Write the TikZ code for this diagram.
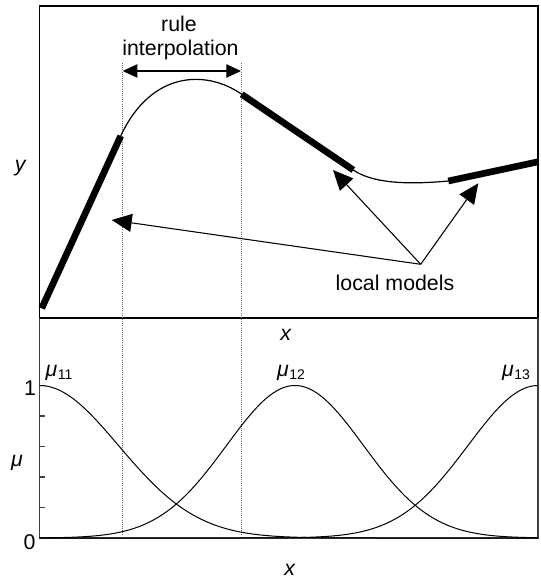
\documentclass[tikz,border=0pt]{standalone}
\usepackage{fontspec}
\setmainfont{Liberation Sans}
\usetikzlibrary{arrows.meta}

\newcommand{\memb}[1]{\textit{μ}\kern0.3pt\raisebox{-0.3ex}{\fontsize{10.5}{12}\selectfont #1}}

\tikzset{
  model/.style={line width=5pt},
  guide/.style={densely dotted, black!60, line width=0.6pt},
  lmarrow/.style={-{Triangle[length=15pt,width=13.5pt]}, line width=0.8pt},
  mf/.style={line width=0.75pt, domain=39.5:538, samples=150},
}

\begin{document}
\begin{tikzpicture}[x=0.75pt, y=-0.75pt, font=\fontsize{16}{19}\selectfont]
  \useasboundingbox (0,0) rectangle (541,586);

  % frames
  \draw[line width=1.3pt] (39.5,6) rectangle (538,318);
  \draw[black!75, line width=1.1pt] (39.5,318) -- (39.5,538) -- (538,538) -- (538,318);
  \foreach \k in {1,...,5}
    \draw[black!75, line width=0.8pt] (39.5,{538-30.5*\k}) -- ++(5,0);

  % guides for the interpolation zone
  \coordinate (g1) at (122.7,63);
  \coordinate (g2) at (241,63);
  \draw[guide] (g1) -- (122.7,538);
  \draw[guide] (g2) -- (241,538);

  % local models
  \coordinate (a0) at (41.7,308.3);
  \coordinate (a1) at (120.7,136);
  \coordinate (b0) at (241.7,94.3);
  \coordinate (b1) at (353.3,170);
  \coordinate (c0) at (448.3,181);
  \coordinate (c1) at (538.5,161.7);
  \draw[model] (a0) -- (a1);
  \draw[model] (b0) -- (b1);
  \draw[model] (c0) -- (c1);
  \draw[line width=0.9pt] (a1) .. controls (152,69) and (208,70.5) .. (b0);
  \draw[line width=0.9pt] (b1) .. controls (375,185) and (415,184) .. (c0);

  % rule interpolation
  \coordinate (r1) at (122.7,71);
  \coordinate (r2) at (241,71);
  \draw[{Triangle[length=11pt,width=10pt]}-{Triangle[length=11pt,width=10pt]}, line width=0.9pt] (r1) -- (r2);
  \node[anchor=base] (rule) at (179,31.7) {rule};
  \node[anchor=base] (interp) at (180.5,55) {interpolation};

  % pointers to the local models
  \node[anchor=base] (models) at (395,290) {local models};
  \coordinate (src) at (420.7,264.3);
  \coordinate (t1) at (111.7,220);
  \coordinate (t2) at (333,170);
  \coordinate (t3) at (478.3,183.3);
  \draw[lmarrow] (src) -- (t1);
  \draw[lmarrow] (src) -- (t2);
  \draw[lmarrow] (src) -- (t3);

  \node (ylab) at (20.7,168) {\textit{y}};
  \node[anchor=base] (xtop) at (286,340) {\textit{x}};

  % membership functions
  \draw[mf] plot (\x, {538-152.5*exp(-0.5*((\x-39.5)/79)^2)});
  \draw[mf] plot (\x, {538-152.5*exp(-0.5*((\x-295)/68.5)^2)});
  \draw[mf] plot (\x, {538-152.5*exp(-0.5*((\x-538)/70)^2)});

  \node[anchor=base] (one) at (30,395) {1};
  \node[anchor=base] (zero) at (29.5,549) {0};
  \node (mu) at (17,463) {\textit{μ}};
  \node[anchor=base] (m11) at (59,376) {\memb{11}};
  \node[anchor=base] (m12) at (291,376) {\memb{12}};
  \node[anchor=base] (m13) at (516,376) {\memb{13}};
  \node[anchor=base] (xbot) at (290,575) {\textit{x}};
\end{tikzpicture}
\end{document}
